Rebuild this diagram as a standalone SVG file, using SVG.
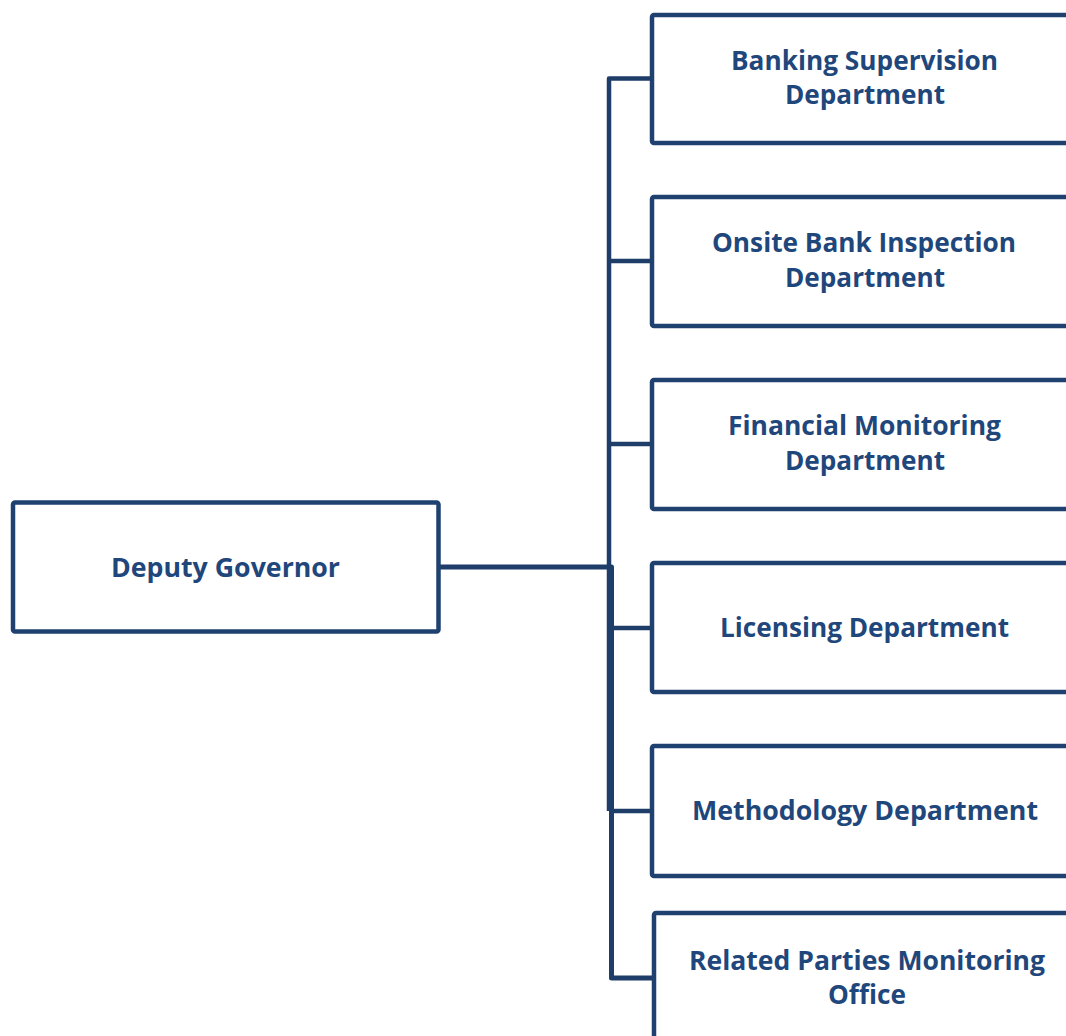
<svg xmlns="http://www.w3.org/2000/svg" width="1066" height="1036" viewBox="0 0 1066 1036">
<style>
.box{fill:#fff;stroke:#1e416f;stroke-width:4.5}
.lbl{font-family:"Open Sans","Noto Sans","Liberation Sans",sans-serif;font-weight:700;font-size:26px;fill:#1f477b;text-anchor:middle}
.con{fill:none;stroke:#1e3d69;stroke-width:4.5;stroke-linejoin:round;stroke-linecap:butt}
</style>
<rect width="1066" height="1036" fill="#fff"/>
<g id="connectors">
<path class="con" d="M652 78.5H609V811"/>
<path class="con" d="M609 261H652M609 444H652M609 628H652M609 811H652"/>
<path class="con" d="M439 567H611.5V978H654" style="stroke-width:5"/>
</g>
<g id="deputy-governor">
<rect class="box" x="13" y="502.5" width="425.5" height="129" rx="2"/>
<text class="lbl" x="225.5" y="577" textLength="229" lengthAdjust="spacingAndGlyphs">Deputy Governor</text>
</g>
<g id="banking-supervision">
<rect class="box" x="652" y="15" width="440" height="128" rx="2"/>
<text class="lbl" x="864.5" y="69.5" textLength="267" lengthAdjust="spacingAndGlyphs">Banking Supervision</text>
<text class="lbl" x="865" y="104" textLength="160" lengthAdjust="spacingAndGlyphs">Department</text>
</g>
<g id="onsite-bank-inspection">
<rect class="box" x="652" y="197" width="440" height="129" rx="2"/>
<text class="lbl" x="864" y="252" textLength="304" lengthAdjust="spacingAndGlyphs">Onsite Bank Inspection</text>
<text class="lbl" x="865" y="287" textLength="160" lengthAdjust="spacingAndGlyphs">Department</text>
</g>
<g id="financial-monitoring">
<rect class="box" x="652" y="380" width="440" height="129" rx="2"/>
<text class="lbl" x="864.5" y="435" textLength="273" lengthAdjust="spacingAndGlyphs">Financial Monitoring</text>
<text class="lbl" x="865" y="470" textLength="160" lengthAdjust="spacingAndGlyphs">Department</text>
</g>
<g id="licensing">
<rect class="box" x="652" y="563" width="440" height="129" rx="2"/>
<text class="lbl" x="864.5" y="637" textLength="289" lengthAdjust="spacingAndGlyphs">Licensing Department</text>
</g>
<g id="methodology">
<rect class="box" x="652" y="746" width="440" height="130" rx="2"/>
<text class="lbl" x="865" y="820" textLength="346" lengthAdjust="spacingAndGlyphs">Methodology Department</text>
</g>
<g id="related-parties">
<rect class="box" x="654" y="913" width="440" height="140" rx="2"/>
<text class="lbl" x="867" y="970" textLength="356" lengthAdjust="spacingAndGlyphs">Related Parties Monitoring</text>
<text class="lbl" x="867" y="1004" textLength="78" lengthAdjust="spacingAndGlyphs">Office</text>
</g>
</svg>
